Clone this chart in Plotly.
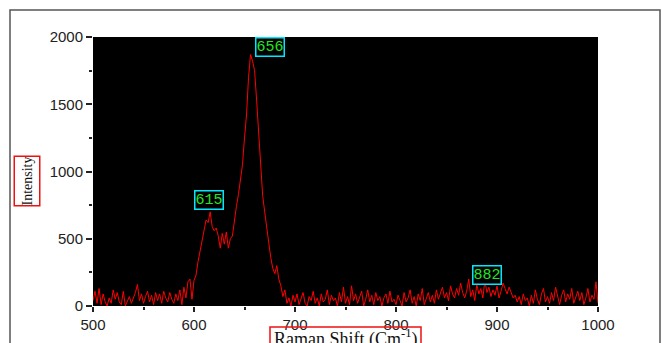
import plotly.graph_objects as go

# Raman shift (cm^-1), step 2
shift_start = 500
shift_step = 2
intensity = [
    # 500-598
    40, 110, 20, 130, 10, 90, 30, 0, 60, 20,
    120, 50, 100, 30, 10, 110, 0, 40, 70, 20,
    60, 100, 160, 40, 90, 20, 70, 110, 30, 80,
    10, 100, 40, 90, 20, 110, 60, 30, 100, 50,
    20, 90, 40, 120, 10, 140, 60, 180, 200, 50,
    # 600-698
    190, 230, 330, 410, 480, 560, 640, 620, 700, 590,
    560, 580, 520, 430, 540, 460, 550, 430, 500, 520,
    640, 740, 830, 930, 1050, 1250, 1420, 1700, 1870, 1820,
    1750, 1530, 1280, 1000, 820, 700, 560, 470, 360, 280,
    240, 300, 200, 150, 70, 120, 20, 60, 0, 80,
    # 700-798
    30, 90, 10, 60, 100, 20, 0, 70, 40, 110,
    20, 60, 0, 90, 30, 50, 120, 10, 80, 40,
    60, 0, 100, 30, 140, 20, 70, 10, 150, 40,
    90, 20, 60, 110, 0, 50, 120, 30, 80, 10,
    100, 40, 70, 0, 60, 90, 20, 110, 30, 50,
    # 800-898
    10, 80, 40, 0, 100, 30, 60, 120, 20, 70,
    0, 90, 40, 130, 10, 60, 100, 30, 80, 20,
    120, 50, 90, 140, 60, 100, 40, 150, 90, 60,
    130, 80, 170, 100, 60, 110, 200, 70, 120, 40,
    160, 90, 130, 60, 190, 100, 140, 70, 120, 80,
    # 900-998
    150, 60, 110, 170, 130, 90, 140, 100, 60, 80,
    30, 70, 10, 90, 40, 60, 0, 80, 20, 120,
    50, 10, 90, 130, 30, 70, 20, 100, 40, 140,
    60, 10, 80, 120, 30, 90, 50, 130, 20, 70,
    110, 40, 100, 10, 60, 130, 30, 80, 50, 180,
    # 1000
    20,
]
raman_shift = [shift_start + shift_step * i for i in range(len(intensity))]

peak_labels = ["615", "656", "882"]
label_x = [615, 675, 890]
label_y = [790, 1925, 230]

x_ticks = [500, 600, 700, 800, 900, 1000]
y_ticks = [0, 500, 1000, 1500, 2000]

W, H = 662, 343
L, R, T, B = 93, 64, 37, 37
pw, ph = W - L - R, H - T - B


def px_x(p):
    return (p - L) / pw


def px_y(p):
    return (H - B - p) / ph


fig = go.Figure()
fig.add_trace(go.Scatter(
    x=raman_shift, y=intensity, mode="lines",
    line=dict(color="#ff0000", width=1), hoverinfo="skip", showlegend=False,
))

for lx, ly, lab in zip(label_x, label_y, peak_labels):
    fig.add_annotation(
        x=lx, y=ly, text=lab, showarrow=False, xref="x", yref="y",
        font=dict(family="Liberation Mono, DejaVu Sans Mono, monospace", size=15, color="#22e622"),
        bgcolor="#000000", bordercolor="#00e8ff", borderwidth=1.5, borderpad=0,
    )

# axis titles with red boxes
fig.add_annotation(
    x=px_x(26.5), y=px_y(181), xref="paper", yref="paper", text="Intensity", textangle=-90,
    xanchor="center", yanchor="middle", showarrow=False, width=48, height=24,
    font=dict(family="Liberation Serif, Times New Roman, serif", size=14, color="#111"),
    bordercolor="#ee1111", borderwidth=1.5, borderpad=0,
)
fig.add_annotation(
    x=px_x(345.5), y=px_y(323.5), xref="paper", yref="paper",
    text="Raman Shift (Cm<sup>-1</sup>)", showarrow=False,
    xanchor="center", yanchor="top",
    font=dict(family="Liberation Serif, Times New Roman, serif", size=18, color="#111"),
)
fig.add_shape(type="rect", xref="paper", yref="paper",
              x0=px_x(270), x1=px_x(421), y0=px_y(365), y1=px_y(327),
              line=dict(color="#ee1111", width=1.5))

# outer frame
fig.add_shape(type="rect", xref="paper", yref="paper",
              x0=px_x(10), x1=px_x(660), y0=px_y(360), y1=px_y(10),
              line=dict(color="#555555", width=1.5), layer="below")

fig.update_layout(
    width=W, height=H,
    margin=dict(l=L, r=R, t=T, b=B),
    paper_bgcolor="white", plot_bgcolor="black",
    font=dict(family="Liberation Sans, Arial, sans-serif", size=15, color="#222"),
)
fig.update_xaxes(
    range=[500, 1000], tickvals=x_ticks, ticks="outside", ticklen=5, tickwidth=1.5,
    tickcolor="#222", showgrid=False, zeroline=False, showline=False, automargin=False,
    minor=dict(tickvals=[550, 650, 750, 850, 950], ticks="outside", ticklen=3, tickcolor="#222", tickwidth=1.5),
    tickfont=dict(size=15),
)
fig.update_yaxes(
    range=[0, 2000], tickvals=y_ticks, ticks="outside", ticklen=6, tickwidth=1.5,
    tickcolor="#222", showgrid=False, zeroline=False, showline=False, automargin=False,
    minor=dict(tickvals=[250, 750, 1250, 1750], ticks="outside", ticklen=3, tickcolor="#222", tickwidth=1.5),
    tickfont=dict(size=15),
)

fig.write_html("out.html")
